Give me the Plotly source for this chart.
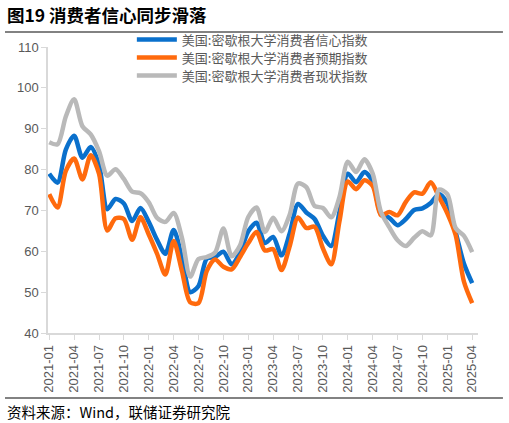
import plotly.graph_objects as go

months = [f"{y}-{m:02d}" for y in range(2021, 2026) for m in range(1, 13)][:52]

sentiment = [79.0, 76.8, 84.9, 88.3, 82.9, 85.5, 81.2, 70.3, 72.8, 71.7, 67.4, 70.6,
             67.2, 62.8, 59.4, 65.2, 58.4, 50.0, 51.5, 58.2, 58.6, 59.9, 56.8, 59.7,
             64.9, 67.0, 62.0, 63.5, 59.0, 64.4, 71.6, 69.5, 67.9, 63.8, 61.3, 69.7,
             79.0, 76.9, 79.4, 77.2, 69.1, 68.2, 66.4, 67.9, 70.1, 70.5, 71.8, 74.0,
             71.7, 64.7, 57.0, 52.2]
expectations = [74.0, 70.7, 79.7, 82.7, 77.6, 83.5, 79.0, 65.1, 68.1, 67.9, 62.8, 68.3,
                64.1, 59.4, 54.3, 62.5, 55.2, 47.5, 47.3, 55.2, 58.0, 56.2, 55.6, 58.6,
                62.0, 64.7, 60.2, 60.5, 55.4, 61.3, 68.3, 65.7, 66.0, 60.7, 56.8, 67.4,
                77.1, 75.2, 77.4, 76.0, 68.8, 69.6, 68.8, 72.1, 74.4, 74.1, 76.9, 73.3,
                69.3, 64.0, 52.6, 47.3]
current = [86.7, 86.2, 93.0, 97.2, 90.6, 88.6, 84.5, 78.5, 80.1, 77.7, 74.6, 74.2,
           72.0, 68.2, 67.2, 69.4, 63.3, 53.8, 58.1, 58.6, 59.7, 65.6, 58.8, 61.4,
           68.4, 70.7, 64.7, 68.2, 64.9, 69.0, 76.6, 75.7, 71.1, 70.6, 68.3, 73.3,
           81.9, 79.4, 82.5, 79.0, 69.6, 65.9, 62.7, 61.3, 63.3, 64.9, 63.9, 75.1,
           74.0, 65.7, 63.8, 59.8]

names = ["美国:密歇根大学消费者信心指数", "美国:密歇根大学消费者预期指数", "美国:密歇根大学消费者现状指数"]
colors = ["#0A70CC", "#FF6A0D", "#B9B9B9"]

x_idx = list(range(len(months)))
tick_vals = x_idx[::3]
tick_text = months[::3]

CJK = "Noto Sans CJK SC"
GRID = "#D9D9D9"

fig = go.Figure()
legend_ids = ["legend", "legend2", "legend3"]
legend_y = [1.026, 0.963, 0.900]
for vals, name, col, lg in zip([sentiment, expectations, current], names, colors, legend_ids):
    fig.add_trace(go.Scatter(
        x=x_idx, y=vals, name=name, mode="lines", legend=lg,
        line=dict(color=col, width=4.5, shape="spline", smoothing=0.8),
    ))

legend_style = dict(x=0.195, xanchor="left", yanchor="middle", itemwidth=40,
                    font=dict(size=13, color="#595959", family=CJK),
                    bgcolor="rgba(0,0,0,0)")

fig.update_layout(
    width=509, height=423,
    margin=dict(l=48, r=31, t=47, b=90),
    plot_bgcolor="white", paper_bgcolor="white",
    font=dict(family=CJK, color="#595959"),
    showlegend=True,
    legend=dict(y=legend_y[0], **legend_style),
    legend2=dict(y=legend_y[1], **legend_style),
    legend3=dict(y=legend_y[2], **legend_style),
    xaxis=dict(
        range=[-0.15, 51.7], showgrid=False, zeroline=False,
        showline=True, linecolor=GRID, linewidth=1.5,
        tickmode="array", tickvals=tick_vals, ticktext=tick_text,
        tickangle=-90, ticks="outside", ticklen=5, tickcolor=GRID,
        tickfont=dict(family="Liberation Sans, Arial", size=13, color="#595959"),
    ),
    yaxis=dict(
        range=[40, 110], dtick=10, showgrid=False, zeroline=False,
        showline=True, linecolor=GRID, linewidth=1.5,
        ticks="outside", ticklen=5, tickcolor=GRID,
        tickfont=dict(family="Liberation Sans, Arial", size=13, color="#595959"),
    ),
    shapes=[
        dict(type="line", xref="paper", yref="paper", x0=-0.1, x1=1.058,
             y0=1.0524, y1=1.0524, line=dict(color="#595959", width=1.5)),
        dict(type="line", xref="paper", yref="paper", x0=-0.1, x1=1.058,
             y0=-0.227, y1=-0.227, line=dict(color="#595959", width=1.5)),
    ],
    annotations=[
        dict(text="<b>图19 消费者信心同步滑落</b>", xref="paper", yref="paper",
             x=-0.1, y=1.115, xanchor="left", yanchor="middle", showarrow=False,
             font=dict(family=CJK, size=17.5, color="#000000")),
        dict(text="资料来源：Wind，联储证券研究院", xref="paper", yref="paper",
             x=-0.1, y=-0.273, xanchor="left", yanchor="middle", showarrow=False,
             font=dict(family=CJK, size=14.5, color="#000000")),
    ],
)

# the page's default body margin would shift the chart 8px; drop it
fig.write_html("out.html", config={"displayModeBar": False},
               post_script="document.body.style.margin='0';")
